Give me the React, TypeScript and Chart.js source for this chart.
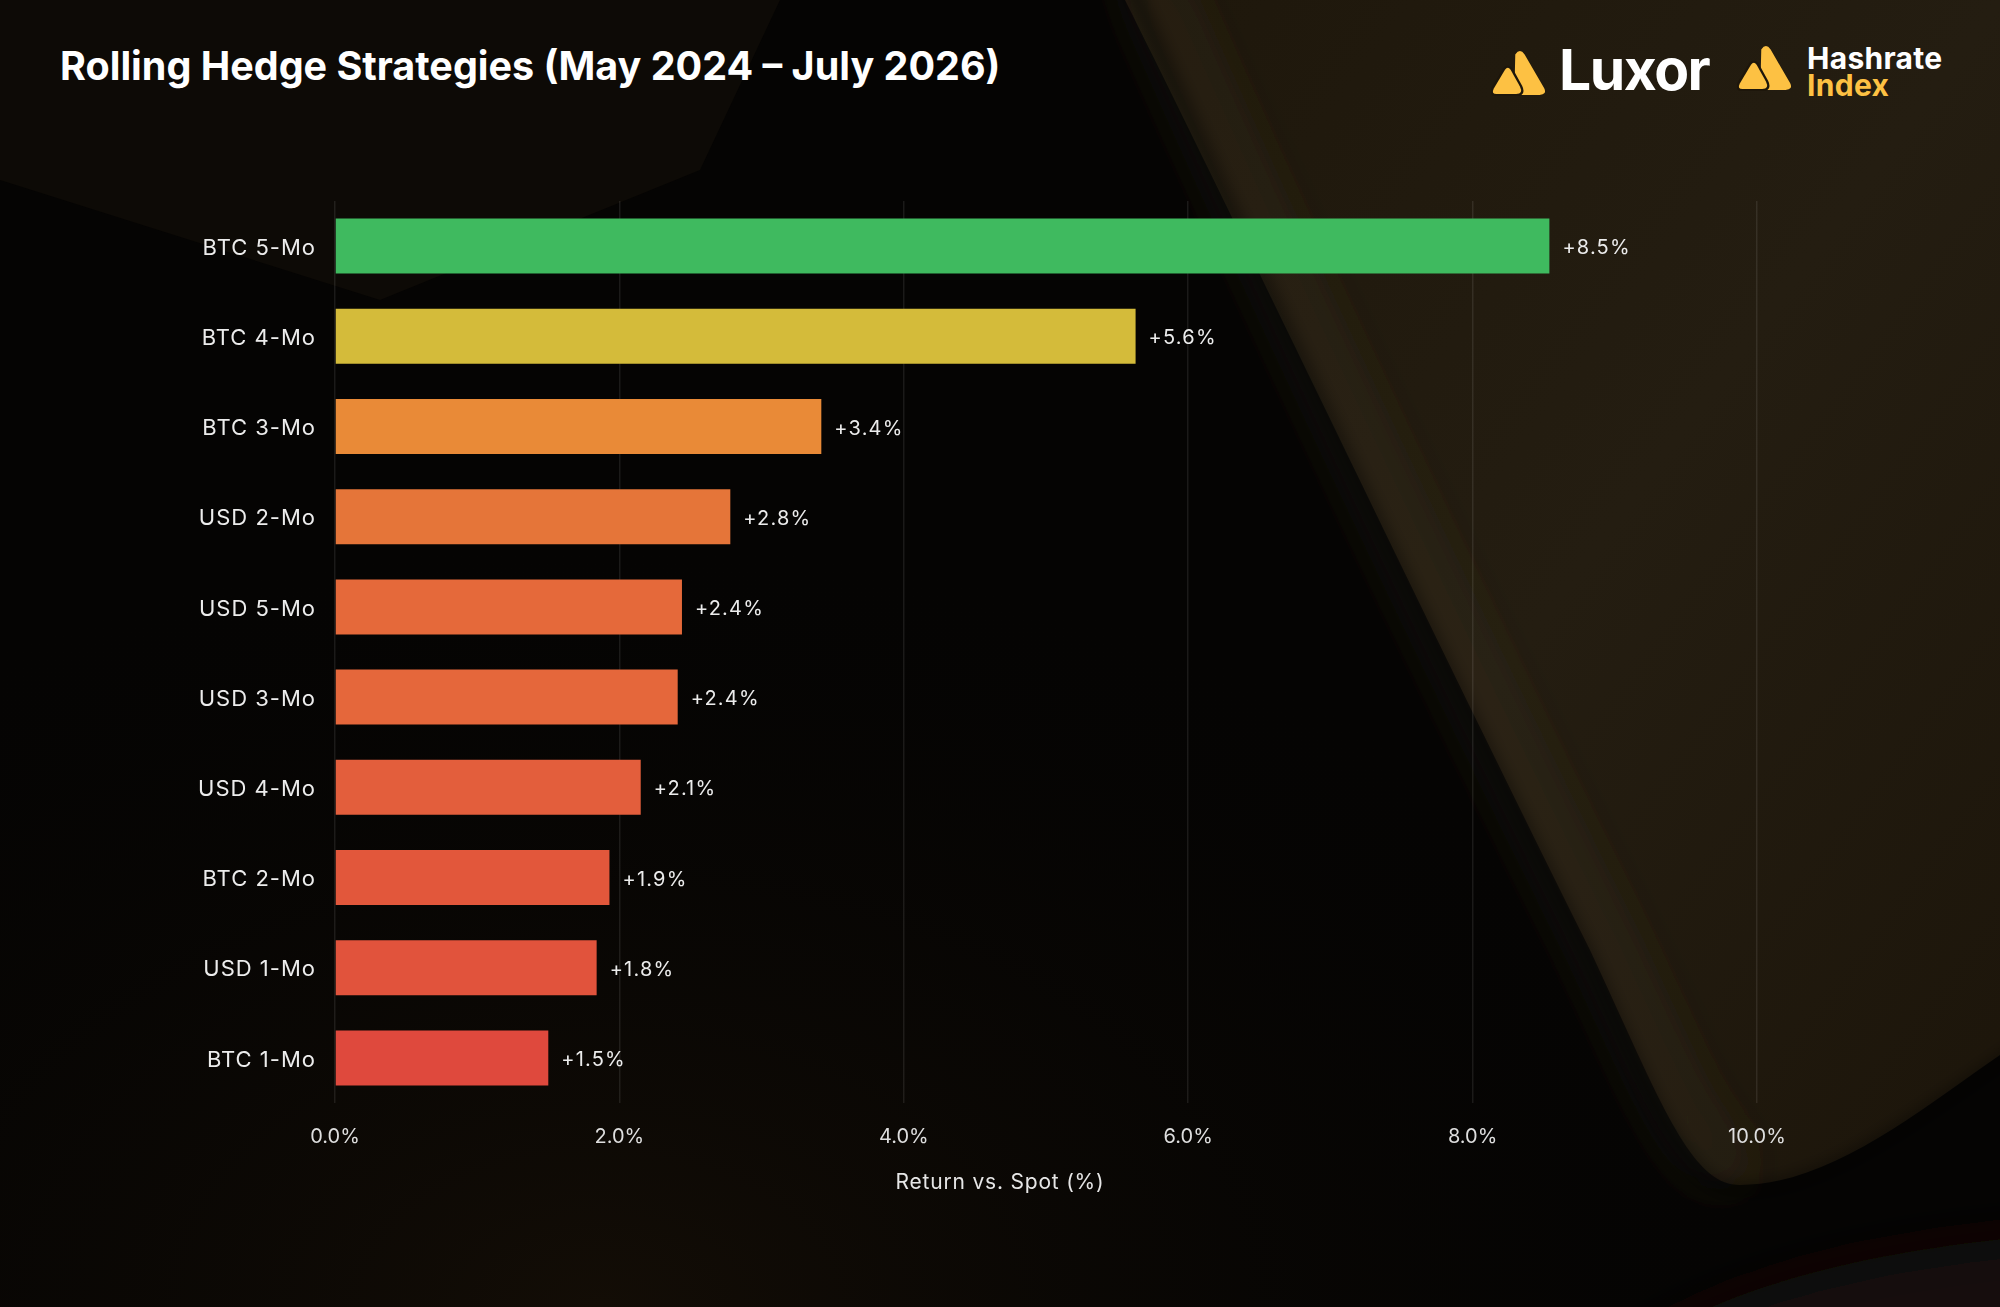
import React, { useRef, useEffect } from "react";
import { Chart, registerables } from "chart.js";

Chart.register(...registerables);

const strategies = [
  "BTC 5-Mo",
  "BTC 4-Mo",
  "BTC 3-Mo",
  "USD 2-Mo",
  "USD 5-Mo",
  "USD 3-Mo",
  "USD 4-Mo",
  "BTC 2-Mo",
  "USD 1-Mo",
  "BTC 1-Mo",
];
const returnsVsSpot = [8.54, 5.63, 3.42, 2.78, 2.44, 2.41, 2.15, 1.93, 1.84, 1.5];
const barColors = [
  "#3fba5f",
  "#d4bb3a",
  "#e98a37",
  "#e57539",
  "#e5693a",
  "#e5673b",
  "#e35e3c",
  "#e2573b",
  "#e1533c",
  "#df493d",
];
const xTicks = [0, 2, 4, 6, 8, 10];

const FONT = "Inter, 'Noto Sans', sans-serif";

// etichetele categoriilor, valorile de la capătul barelor și titlul axei X
const textLayer = {
  id: "textLayer",
  afterDatasetsDraw(chart: Chart) {
    const { ctx } = chart;
    const meta = chart.getDatasetMeta(0);
    const yScale = chart.scales.y;
    ctx.save();
    ctx.textBaseline = "middle";

    ctx.font = `400 22px ${FONT}`;
    (ctx as any).letterSpacing = "1px";
    ctx.fillStyle = "#ececec";
    ctx.textAlign = "right";
    strategies.forEach((name, i) => {
      ctx.fillText(name, chart.chartArea.left - 19, yScale.getPixelForValue(i) + 2);
    });

    ctx.font = `400 20px ${FONT}`;
    (ctx as any).letterSpacing = "1.2px";
    ctx.textAlign = "left";
    meta.data.forEach((bar: any, i: number) => {
      const v = returnsVsSpot[i];
      ctx.fillText(`+${v.toFixed(1)}%`, bar.x + 13, bar.y + 2);
    });

    ctx.font = `400 21px ${FONT}`;
    (ctx as any).letterSpacing = "0.8px";
    ctx.textAlign = "center";
    ctx.fillStyle = "#e6e6e6";
    ctx.fillText("Return vs. Spot (%)", chart.width / 2, 1183);
    ctx.restore();
  },
};

const Icon: React.FC<{ size: number }> = ({ size }) => (
  <svg width={size} height={size * 0.84} viewBox="0 0 60 50" style={{ display: "block" }}>
    <path
      d="M27 6 Q31 0 35 6 L56 42 Q59 48 52 48 L26 48 Z"
      fill="#fdc143"
      stroke="#fdc143"
      strokeWidth="2"
      strokeLinejoin="round"
    />
    <path
      d="M15 22 Q18 18 21 22 L31 40 Q35 48 27 48 L6 48 Q0 48 3 42 Z"
      fill="#fdc143"
      stroke="#1d160b"
      strokeWidth="5"
      strokeLinejoin="round"
    />
    <path
      d="M15 22 Q18 18 21 22 L31 40 Q35 48 27 48 L6 48 Q0 48 3 42 Z"
      fill="#fdc143"
    />
  </svg>
);

const App: React.FC = () => {
  const chartRef = useRef<HTMLCanvasElement>(null);
  const chartInstance = useRef<Chart | null>(null);

  useEffect(() => {
    if (!chartRef.current) return;
    if (chartInstance.current) chartInstance.current.destroy();
    const ctx = chartRef.current.getContext("2d");
    if (!ctx) return;

    chartInstance.current = new Chart(ctx, {
      type: "bar",
      data: {
        labels: strategies,
        datasets: [
          {
            label: "Return vs. Spot",
            data: returnsVsSpot,
            backgroundColor: barColors,
            borderColor: barColors,
            borderWidth: 0,
            categoryPercentage: 1,
            barPercentage: 0.61,
          },
        ],
      },
      options: {
        indexAxis: "y",
        responsive: false,
        animation: false,
        layout: { padding: { top: 201, right: 243, left: 0, bottom: 0 } },
        scales: {
          x: {
            min: 0,
            max: 10,
            afterFit: (scale: any) => {
              scale.height = 204;
            },
            afterBuildTicks: (scale: any) => {
              scale.ticks = xTicks.map((v) => ({ value: v }));
            },
            grid: {
              color: "rgba(255,255,255,0.09)",
              lineWidth: 1.5,
              drawTicks: false,
            },
            border: { display: false },
            ticks: {
              color: "#dedede",
              padding: 22,
              font: { family: FONT, size: 20 },
              callback: (v) => `${Number(v).toFixed(1)}%`,
            },
          },
          y: {
            afterFit: (scale: any) => {
              scale.width = 335;
            },
            grid: { display: false },
            border: { display: false },
            ticks: { display: false },
          },
        },
        plugins: {
          legend: { display: false },
          tooltip: { enabled: false },
        },
      },
      plugins: [textLayer],
    });

    return () => {
      if (chartInstance.current) {
        chartInstance.current.destroy();
        chartInstance.current = null;
      }
    };
  }, []);

  return (
    <div
      style={{
        position: "fixed",
        left: 0,
        top: 0,
        width: 2000,
        height: 1307,
        background: "#050403",
        overflow: "hidden",
        fontFamily: FONT,
      }}
    >
      <svg width={2000} height={1307} style={{ position: "absolute", left: 0, top: 0 }}>
        <defs>
          <linearGradient id="brown" x1="0" y1="0" x2="1" y2="1">
            <stop offset="0" stopColor="#1e170b" />
            <stop offset="0.5" stopColor="#241d11" />
            <stop offset="1" stopColor="#1c150a" />
          </linearGradient>
          <radialGradient id="bl" cx="0.3" cy="1" r="0.6">
            <stop offset="0" stopColor="#130d06" />
            <stop offset="1" stopColor="#050403" stopOpacity="0" />
          </radialGradient>
          <filter id="blur8" filterUnits="userSpaceOnUse" x="-500" y="-500" width="3000" height="2300">
            <feGaussianBlur stdDeviation="8" />
          </filter>
          <filter id="blur30" filterUnits="userSpaceOnUse" x="-500" y="-500" width="3000" height="2300">
            <feGaussianBlur stdDeviation="30" />
          </filter>
        </defs>
        <rect x={0} y={0} width={2000} height={1307} fill="url(#bl)" />
        <path d="M0 0 L780 0 L700 170 L380 300 L0 180 Z" fill="#0d0a06" />
        <path
          d="M1125 0 C1250 250 1440 650 1590 950 C1660 1100 1690 1185 1740 1185 C1830 1185 1920 1110 2000 1055 L2000 0 Z"
          fill="url(#brown)"
        />
        <path
          d="M1140 -40 C1265 250 1455 650 1605 950 C1670 1090 1700 1168 1740 1168"
          fill="none"
          stroke="rgba(70,62,45,0.45)"
          strokeWidth="30"
          filter="url(#blur30)"
        />
        <path
          d="M1120 -40 C1245 250 1435 650 1585 950 C1655 1110 1685 1190 1740 1190 C1830 1190 1920 1115 2040 1035"
          fill="none"
          stroke="rgba(0,0,0,0.7)"
          strokeWidth="8"
          filter="url(#blur8)"
        />
        <path
          d="M1560 1400 C1680 1300 1820 1250 2100 1230 L2100 1400 Z"
          fill="#120d07"
          filter="url(#blur30)"
        />
      </svg>

      <div
        style={{
          position: "absolute",
          left: 60,
          top: 42,
          color: "#ffffff",
          fontSize: 39.5,
          fontWeight: 700,
          letterSpacing: 0,
          whiteSpace: "nowrap",
        }}
      >
        Rolling Hedge Strategies (May 2024 – July 2026)
      </div>

      <div
        style={{
          position: "absolute",
          left: 1491,
          top: 44,
          display: "flex",
          alignItems: "flex-end",
        }}
      >
        <Icon size={56} />
        <span
          style={{
            marginLeft: 12,
            color: "#ffffff",
            fontSize: 57,
            fontWeight: 700,
            letterSpacing: -1.5,
            lineHeight: "52px",
          }}
        >
          Luxor
        </span>
      </div>

      <div style={{ position: "absolute", left: 1737, top: 44 }}>
        <Icon size={56} />
      </div>
      <div
        style={{
          position: "absolute",
          left: 1807,
          top: 45,
          fontSize: 30,
          fontWeight: 700,
          lineHeight: "27px",
          letterSpacing: 0.3,
        }}
      >
        <div style={{ color: "#ffffff" }}>Hashrate</div>
        <div style={{ color: "#fdc143" }}>Index</div>
      </div>

      <canvas
        ref={chartRef}
        width={2000}
        height={1307}
        style={{ position: "absolute", left: 0, top: 0, width: 2000, height: 1307 }}
      />
    </div>
  );
};

export default App;
